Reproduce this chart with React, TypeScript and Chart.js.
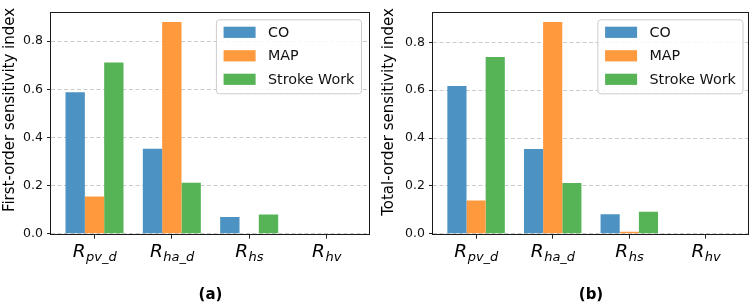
import React, { useEffect, useRef } from 'react';
import { Chart, registerables } from 'chart.js';

Chart.register(...registerables);

// ---------- data ----------
const categoryBase = ['R', 'R', 'R', 'R'];
const categorySub = ['pv_d', 'ha_d', 'hs', 'hv'];
const seriesLabels = ['CO', 'MAP', 'Stroke Work'];
const seriesColors = ['#4c92c3', '#ff993e', '#56b356'];

const firstCO = [0.588, 0.353, 0.069, 0];
const firstMAP = [0.155, 0.879, 0, 0];
const firstSW = [0.711, 0.212, 0.08, 0];

const totalCO = [0.618, 0.354, 0.081, 0];
const totalMAP = [0.139, 0.885, 0.008, 0];
const totalSW = [0.739, 0.212, 0.092, 0];

const yTicks = [0, 0.2, 0.4, 0.6, 0.8];

const FONT = '"DejaVu Sans", "Liberation Sans", sans-serif';

type Panel = {
  values: number[][];
  yTitle: string;
  caption: string;
  yAxisWidth: number;
  padRight: number;
  yTitleX: number;
  yTitleY: number;
  legendInset: number;
};

const panels: Panel[] = [
  {
    values: [firstCO, firstMAP, firstSW],
    yTitle: 'First-order sensitivity index',
    caption: '(a)',
    yAxisWidth: 51,
    padRight: 7,
    yTitleX: 10,
    yTitleY: 110,
    legendInset: 9,
  },
  {
    values: [totalCO, totalMAP, totalSW],
    yTitle: 'Total-order sensitivity index',
    caption: '(b)',
    yAxisWidth: 56,
    padRight: 5,
    yTitleX: 12.5,
    yTitleY: 112,
    legendInset: 6.5,
  },
];

function makePlugins(p: Panel) {
  const frame = {
    id: 'frame',
    afterDatasetsDraw(chart: any) {
      const { ctx, chartArea: a } = chart;
      ctx.save();
      ctx.strokeStyle = '#1a1a1a';
      ctx.lineWidth = 1;
      ctx.strokeRect(Math.round(a.left) - 0.5, Math.round(a.top) + 0.5, Math.round(a.right) - Math.round(a.left), Math.round(a.bottom) - Math.round(a.top));
      ctx.restore();
    },
  };
  const xLabels = {
    id: 'xLabels',
    afterDraw(chart: any) {
      const { ctx, chartArea: a } = chart;
      const xs = chart.scales.x;
      const baseY = a.bottom + 23.3;
      ctx.save();
      ctx.fillStyle = '#000';
      ctx.textAlign = 'left';
      ctx.textBaseline = 'alphabetic';
      categorySub.forEach((sub, i) => {
        const px = xs.getPixelForValue(i);
        const fR = `italic 18.5px ${FONT}`;
        const fS = `italic 13px ${FONT}`;
        ctx.font = fR;
        const wR = ctx.measureText(categoryBase[i]).width;
        ctx.font = fS;
        const wS = ctx.measureText(sub).width;
        const x0 = px - (wR + wS) / 2;
        ctx.font = fR;
        ctx.fillText(categoryBase[i], x0, baseY);
        ctx.font = fS;
        ctx.fillText(sub, x0 + wR + 0.5, baseY + 3.5);
      });
      ctx.restore();
    },
  };
  const yTitle = {
    id: 'yTitle',
    afterDraw(chart: any) {
      const { ctx } = chart;
      ctx.save();
      ctx.translate(p.yTitleX, p.yTitleY);
      ctx.rotate(-Math.PI / 2);
      ctx.font = `15px ${FONT}`;
      ctx.fillStyle = '#000';
      ctx.textAlign = 'center';
      ctx.textBaseline = 'middle';
      ctx.fillText(p.yTitle, 0, 0);
      ctx.restore();
    },
  };
  const legend = {
    id: 'boxLegend',
    afterDraw(chart: any) {
      const { ctx, chartArea: a } = chart;
      const ds = chart.data.datasets;
      const fs = 14.3;
      ctx.save();
      ctx.font = `${fs}px ${FONT}`;
      let maxW = 0;
      ds.forEach((d: any) => { maxW = Math.max(maxW, ctx.measureText(d.label).width); });
      const padL = 7.7, handleW = 32, gap = 12.4, padR = 6.7;
      const w = padL + handleW + gap + maxW + padR;
      const h = 74;
      const right = a.right - p.legendInset;
      const left = right - w;
      const top = a.top + 7.8;
      ctx.beginPath();
      ctx.roundRect(left + 0.5, top + 0.5, w, h, 3);
      ctx.fillStyle = 'rgba(255,255,255,0.85)';
      ctx.fill();
      ctx.strokeStyle = '#cccccc';
      ctx.lineWidth = 1;
      ctx.stroke();
      ds.forEach((d: any, i: number) => {
        const cy = top + 13 + i * 23.5;
        ctx.fillStyle = d.backgroundColor;
        ctx.fillRect(left + padL, cy - 5.6, handleW, 11.2);
        ctx.fillStyle = '#111';
        ctx.textAlign = 'left';
        ctx.textBaseline = 'middle';
        ctx.fillText(d.label, left + padL + handleW + gap, cy + 0.5);
      });
      ctx.restore();
    },
  };
  return [frame, xLabels, yTitle, legend];
}

function PanelChart({ p }: { p: Panel }) {
  const ref = useRef<HTMLCanvasElement | null>(null);
  useEffect(() => {
    if (!ref.current) return;
    const n = categorySub.length;
    const groupW = 0.75;
    const span = n - 1 + groupW;
    const xMin = -groupW / 2 - 0.05 * span;
    const xMax = n - 1 + groupW / 2 + 0.05 * span;
    const yMax = Math.max(...p.values.flat()) * 1.05;
    const chart = new Chart(ref.current, {
      type: 'bar',
      data: {
        datasets: seriesLabels.map((label, s) => ({
          label,
          data: p.values[s].map((y, i) => ({ x: i, y })),
          backgroundColor: seriesColors[s],
          borderWidth: 0,
          categoryPercentage: groupW,
          barPercentage: 1,
        })),
      } as any,
      options: {
        animation: false,
        responsive: false,
        devicePixelRatio: 1,
        layout: { padding: { top: 3.4, right: p.padRight, left: 0, bottom: 0 } },
        plugins: {
          legend: { display: false },
          tooltip: { enabled: false },
          title: {
            display: true,
            text: p.caption,
            position: 'bottom',
            fullSize: false,
            color: '#000',
            font: { family: FONT, size: 15, weight: 'bold' },
            padding: { top: 0, bottom: 3 },
          },
        },
        scales: {
          x: {
            type: 'linear',
            min: xMin,
            max: xMax,
            offset: false,
            afterBuildTicks: (s: any) => {
              s.ticks = categorySub.map((_, i) => ({ value: i }));
            },
            afterFit: (s: any) => {
              s.height = 52.3;
            },
            ticks: { display: false },
            grid: {
              display: true,
              offset: false,
              drawOnChartArea: false,
              drawTicks: true,
              tickLength: 5,
              tickColor: '#222',
              tickWidth: 1,
            },
            border: { display: false },
          },
          y: {
            type: 'linear',
            min: 0,
            max: yMax,
            afterBuildTicks: (s: any) => {
              s.ticks = yTicks.map((v) => ({ value: v }));
            },
            afterFit: (s: any) => {
              s.width = p.yAxisWidth;
            },
            ticks: {
              callback: (v: any) => Number(v).toFixed(1),
              font: { family: FONT, size: 12.5 },
              color: '#111',
              padding: 4,
            },
            grid: {
              color: 'rgba(185,185,185,0.75)',
              lineWidth: 1,
              tickColor: '#222',
              tickLength: 4,
              tickWidth: 1,
              tickBorderDash: [],
            },
            border: { display: false, dash: [4, 2.5] },
          },
        },
      } as any,
      plugins: makePlugins(p) as any,
    });
    return () => chart.destroy();
  }, [p]);
  return <canvas ref={ref} width={377} height={307} style={{ display: 'block', width: 377, height: 307 }} />;
}

export default function App() {
  return (
    <div style={{ position: 'fixed', left: 0, top: 0, width: 754, height: 307, display: 'flex', background: '#fff' }}>
      {panels.map((p) => (
        <PanelChart key={p.caption} p={p} />
      ))}
    </div>
  );
}
